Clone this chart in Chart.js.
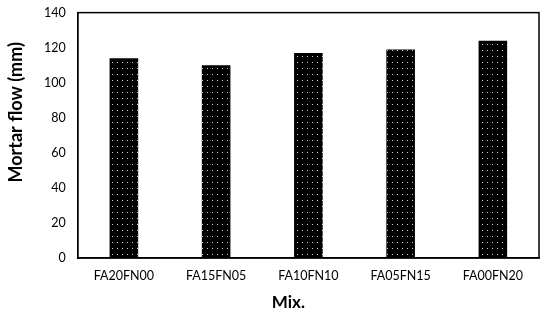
<!DOCTYPE html>
<html>
<head>
<meta charset="utf-8">
<script src="https://cdn.jsdelivr.net/npm/chart.js@4/dist/chart.umd.min.js"></script>
<style>
  html, body { margin: 0; padding: 0; background: #fff; }
  #wrap { width: 550px; height: 319px; }
</style>
</head>
<body>
<div id="wrap"><canvas id="chart"></canvas></div>
<script>
const mixes = ['FA20FN00', 'FA15FN05', 'FA10FN10', 'FA05FN15', 'FA00FN20'];
const flowValues = [114, 110, 117, 119, 124];
const yTitle = 'Mortar flow (mm)';
const xTitle = 'Mix.';

// black fill with small white dots, like the Excel pattern
function dottedPattern() {
    const c = document.createElement('canvas');
    c.width = 5; c.height = 6;
    const g = c.getContext('2d');
    g.fillStyle = '#000';
    g.fillRect(0, 0, 5, 6);
    g.fillStyle = '#d0d0d0';
    g.fillRect(2, 2, 1, 1);
    return g.createPattern(c, 'repeat');
}

const font = "Lato, 'Open Sans', sans-serif";

// frame round the plot area + the two axis titles (Excel puts them a bit off-centre)
const frame = {
    id: 'frame',
    afterDraw(chart) {
        const {ctx, chartArea: a} = chart;
        ctx.save();
        ctx.strokeStyle = '#000';
        ctx.lineWidth = 1.5;
        ctx.strokeRect(a.left, a.top, a.right - a.left, a.bottom - a.top);

        ctx.fillStyle = '#000';
        ctx.font = "bold 18px " + font;
        ctx.textAlign = 'center';
        ctx.textBaseline = 'middle';
        ctx.translate(16, (a.top + a.bottom) / 2 - 23);
        ctx.rotate(-Math.PI / 2);
        ctx.fillText(yTitle, 0, 0);
        ctx.restore();

        ctx.save();
        ctx.fillStyle = '#000';
        ctx.font = "bold 17px " + font;
        ctx.textAlign = 'center';
        ctx.textBaseline = 'middle';
        ctx.fillText(xTitle, (a.left + a.right) / 2 - 20, 303);
        ctx.restore();
    }
};

new Chart(document.getElementById('chart'), {
    type: 'bar',
    data: {
        labels: mixes,
        datasets: [{
            data: flowValues,
            backgroundColor: dottedPattern(),
            borderWidth: 0,
            barPercentage: 0.31,
            categoryPercentage: 1
        }]
    },
    options: {
        responsive: true,
        maintainAspectRatio: false,
        animation: false,
        layout: { padding: { top: 12, right: 11, left: 32, bottom: 26 } },
        plugins: { legend: { display: false }, tooltip: { enabled: false } },
        scales: {
            x: {
                grid: { display: false, drawTicks: false },
                border: { color: '#000', width: 1.5 },
                ticks: { color: '#000', font: { family: font, size: 12.5 }, padding: 10 }
            },
            y: {
                min: 0, max: 140,
                grid: { display: false, drawTicks: false },
                border: { color: '#000', width: 1.5 },
                ticks: { stepSize: 20, color: '#000', font: { family: font, size: 12.5, lineHeight: 0.1 }, padding: 12 }
            }
        }
    },
    plugins: [frame]
});
</script>
</body>
</html>
